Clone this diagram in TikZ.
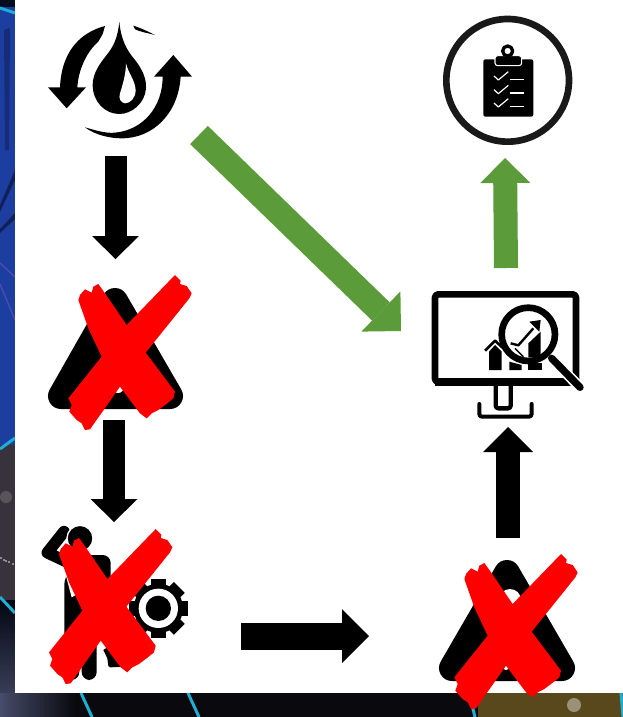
\documentclass[tikz,border=0pt]{standalone}
\usetikzlibrary{arrows.meta}
\definecolor{crossred}{RGB}{255,0,0}
\definecolor{arrowgreen}{RGB}{91,155,58}
\definecolor{streakcyan}{RGB}{30,175,215}
\definecolor{wallblue}{RGB}{28,62,160}
\definecolor{wallnavy}{RGB}{18,32,90}
\definecolor{wallgrey}{RGB}{55,50,60}
\definecolor{wallbrown}{RGB}{88,72,28}
\definecolor{wallblack}{RGB}{9,9,14}
\definecolor{wallslate}{RGB}{70,76,105}
\tikzset{
  icon/.style={x=.25pt,y=-.25pt},
  blockarrow/.style args={#1/#2/#3}{line width=#1pt,-{Triangle[length=#2pt,width=#3pt,line width=0pt]}},
  hazard/.style={fill=black,draw=black,line width=19.5pt,line join=round},
  streak/.style={streakcyan,line width=2.2pt},
}
\newcommand{\redcross}[1]{\fill[crossred,shift={(#1)},icon] (435,15)--(452,32)--(450,42)--(470,48)--(485,70)--(478,85)--(347,248)--(435,365)--(430,385)--(405,405)--(385,420)--(365,430)--(350,445)--(330,430)--(270,350)--(180,478)--(165,480)--(155,460)--(140,450)--(118,425)--(125,405)--(115,385)--(215,260)--(175,175)--(145,90)--(150,75)--(165,58)--(185,68)--(190,50)--(205,42)--(225,70)--(290,165)--cycle;}
\begin{document}
\begin{tikzpicture}[x=.75pt,y=-.75pt,>=stealth,line join=round]
\useasboundingbox (0,0) rectangle (623,717);
\fill[wallblue] (0,0) rectangle (15,445);
\fill[black!80!wallblue] (0,0) rectangle (15,7);
\fill[wallnavy!60!wallblue] (4,30)--(10,28)--(9,150)--(5,150)--cycle;
\fill[wallnavy] (0,205)--(15,170)--(15,180)--(0,212)--cycle;
\fill[wallnavy] (0,229)--(15,213)--(15,219)--(0,233)--cycle;
\draw[blue!40!gray,line width=1pt] (0,263)--(15,277);
\draw[blue!40!gray,line width=1pt] (0,284)--(15,320);
\fill[wallgrey] (0,445) rectangle (15,600);
\fill[gray!45!wallgrey] (6,497) circle (6);
\foreach \a/\b in {1/558,4/560,6/561,9/562,13/564} \fill[white!80!gray] (\a,\b) circle (.9);
\shade[top color=black!80!wallnavy,bottom color=wallslate] (0,600) rectangle (15,717);
\draw[streak] (0,8)--(15,13);
\draw[streak] (0,449)--(15,438);
\draw[streak] (0,597)--(15,613);
\shade[left color=wallslate,right color=wallblack] (0,693) rectangle (75,717);
\fill[wallblack] (75,693) rectangle (478,717);
\fill[wallbrown] (478,693) rectangle (623,717);
\fill[wallbrown!60!white] (574,705) circle (7);
\draw[streak] (81,693)--(92,717);
\draw[streak] (188,693)--(199,717);
\draw[streak] (469,693)--(475,717);
\draw[streak] (621,693)--(623,717);
\fill[white] (15,0) rectangle (623,693);
\begin{scope}[shift={(20,10)},icon]
\fill (298,35) .. controls (303,90) and (320,120) .. (345,150) .. controls (365,175) and (380,205) .. (378,235) .. controls (375,280) and (335,312) .. (298,312) .. controls (255,312) and (218,275) .. (218,225) .. controls (218,190) and (240,160) .. (260,135) .. controls (280,110) and (293,85) .. (298,35) -- cycle;
\fill[white] (318,160) .. controls (325,190) and (345,210) .. (347,240) .. controls (347,265) and (330,280) .. (315,280) .. controls (302,278) and (295,265) .. (300,250) .. controls (308,225) and (318,190) .. (318,160) -- cycle;
\fill (255,48) .. controls (190,65) and (125,115) .. (120,232) -- (84,232) -- (140,295) -- (198,232) -- (172,232) .. controls (175,180) and (200,125) .. (235,95) -- (248,72) -- cycle;
\fill (460,135) -- (516,200) -- (482,200) .. controls (475,310) and (400,385) .. (305,385) .. controls (270,385) and (225,375) .. (195,352) .. controls (240,365) and (260,370) .. (285,368) .. controls (370,360) and (428,290) .. (428,200) -- (402,200) -- cycle;
\fill (340,47) .. controls (365,55) and (385,65) .. (405,75) .. controls (385,70) and (360,65) .. (345,58) -- cycle;
\end{scope}
\draw[hazard] (61,396)--(115,301)--(170,396)--cycle;
\fill[white] (118,387) circle (6);
\draw[hazard] (452,668)--(507,573)--(562,668)--cycle;
\fill[white] (510,600) circle (11);
\fill[white] (506,666) circle (4);
\begin{scope}[shift={(20,510)},icon]
\draw[line width=8.75pt,line cap=round] (132,65)--(82,128)--(150,160);
\filldraw[fill=black,draw=white,line width=1pt] (180,85) circle (39);
\fill[rounded corners=6pt] (133,200)--(133,510)--(178,510)--(178,395)--(185,395)--(185,510)--(230,510)--(230,390)--(272,250)--(272,135)--(190,135)--cycle;
\fill[white] (136,190)--(148,195)--(168,255)--(155,262)--cycle;
\fill (250,420)--(265,410)--(320,470)--(270,472)--(265,468)--(262,445)--cycle;
\foreach \a in {0,45,...,315} \draw[line width=11.5pt] (415,295)--++(\a:89);
\fill (415,295) circle (74);
\fill[white] (415,295) circle (59);
\fill (415,295) circle (38);
\end{scope}
\begin{scope}[shift={(420,280)},icon]
\draw[line width=5pt,rounded corners=2.5pt] (45,43) rectangle (468,306);
\fill (45,295) rectangle (468,318);
\draw[line width=3.25pt,rounded corners=2pt] (227,318)--(227,385)--(272,385)--(272,318);
\draw[line width=3pt,rounded corners=2pt,line cap=round] (178,372)--(178,410)--(335,410)--(335,372);
\fill (207,270)--(207,215)--(225,195)--(245,215)--(245,270)--cycle;
\draw[line width=2pt] (195,212)--(225,182)--(250,205);
\fill (268,270)--(268,245)--(305,255)--(305,270)--cycle;
\fill (325,250)--(365,250)--(365,270)--(325,270)--cycle;
\draw[white,line width=8pt] (395,235)--(470,312);
\draw[line width=5.5pt,line cap=round] (395,235)--(480,322);
\filldraw[fill=white,draw=black,line width=5pt] (325,163) circle (80);
\draw[line width=1.8pt] (272,190)--(295,196)--(340,145);
\fill (328,125)--(362,120)--(358,155)--cycle;
\fill (325,232)--(325,190)--(362,155)--(362,230)--cycle;
\draw[line width=1pt] (285,205)--(310,230);
\end{scope}
\begin{scope}[shift={(430,15)},icon]
\draw[black!90,line width=5pt] (233,196) circle (184);
\fill[rounded corners=1.5pt] (160,133) rectangle (310,305);
\filldraw[fill=black,draw=white,line width=.8pt,rounded corners=2pt] (195,152)--(195,122)--(275,122)--(275,152)--cycle;
\filldraw[fill=white,draw=black,line width=2.5pt] (233,108) circle (15);
\foreach \b in {0,41,81} {
  \draw[white,line width=.9pt] (192,183+\b)--(205,195+\b)--(235,170+\b);
  \draw[white,line width=1pt] (240,193+\b)--(282,193+\b);
}
\end{scope}
\redcross{30,270}
\redcross{10.7,524}
\redcross{416,549}
\coordinate (drop-s) at (115.5,156);
\coordinate (drop-e) at (199,135);
\coordinate (warnone-n) at (115.5,259);
\coordinate (warnone-s) at (114,420);
\coordinate (worker-n) at (114,522);
\coordinate (worker-e) at (241,636);
\coordinate (warntwo-w) at (369,636);
\coordinate (warntwo-n) at (508,538);
\coordinate (monitor-s) at (508,427);
\coordinate (monitor-w) at (401,331);
\coordinate (monitor-n) at (506,268);
\coordinate (clipboard-s) at (505,158);
\draw[blockarrow=16.5/17.25/35.25] (drop-s)--(warnone-n);
\draw[blockarrow=16.5/17.25/35.25] (warnone-s)--(worker-n);
\draw[blockarrow=20.25/20.25/40.5] (worker-e)--(warntwo-w);
\draw[blockarrow=18/18.75/37.5] (warntwo-n)--(monitor-s);
\draw[blockarrow=18/18.75/37.5,arrowgreen] (monitor-n)--(clipboard-s);
\draw[blockarrow=19/21/42,arrowgreen] (drop-e)--(monitor-w);
\end{tikzpicture}
\end{document}
